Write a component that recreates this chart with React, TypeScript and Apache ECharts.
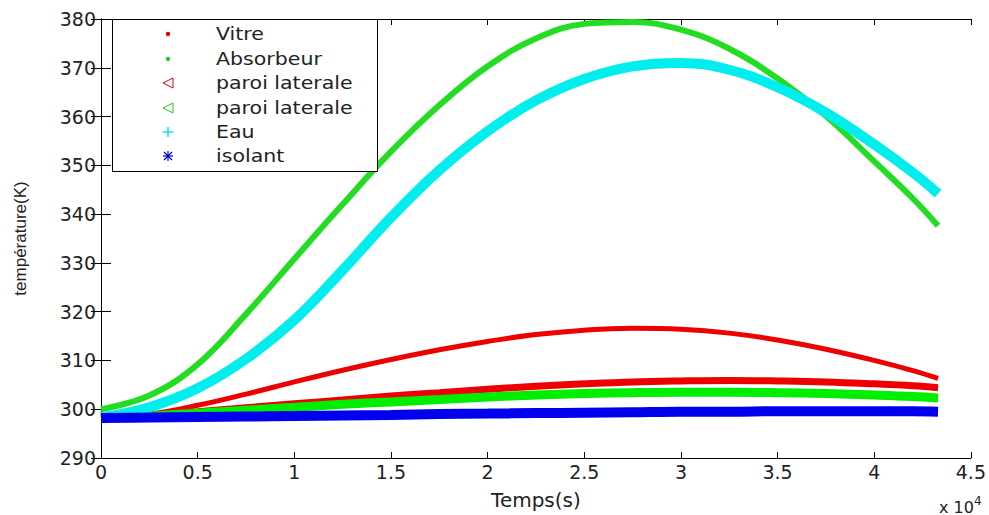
import React, { useEffect, useRef } from "react";
import * as echarts from "echarts";

// time in units of 1e4 s
const times = [0, 0.25, 0.5, 0.75, 1.0, 1.25, 1.5, 1.75, 2.0, 2.25, 2.5, 2.75, 3.0, 3.25, 3.5, 3.75, 4.0, 4.2, 4.33];

const vitre = [298.3, 299.0, 300.8, 303.1, 305.6, 308, 310.2, 312.2, 313.9, 315.3, 316.2, 316.6, 316.4, 315.6, 314.2, 312.3, 310, 307.9, 306.3];
const absorbeur = [300.0, 302.8, 309.2, 319.5, 330.8, 342, 352.8, 362.3, 370.3, 376, 379, 379.4, 377.8, 373.9, 367.8, 360.1, 350.8, 343.2, 337.6];
const paroiRouge = [298.3, 298.8, 299.5, 300.3, 301.1, 301.9, 302.7, 303.4, 304.1, 304.7, 305.2, 305.6, 305.8, 305.9, 305.8, 305.6, 305.2, 304.8, 304.4];
const paroiVerte = [298.3, 298.6, 299.2, 299.8, 300.4, 301, 301.5, 302, 302.5, 302.9, 303.2, 303.4, 303.5, 303.5, 303.4, 303.2, 302.9, 302.6, 302.3];
const eau = [298.3, 300.4, 304.3, 310.3, 318.3, 328.5, 339.3, 349, 357, 363.3, 367.7, 370.3, 371, 369.6, 366, 360.8, 354.3, 348.5, 344.2];
const isolant = [298.2, 298.3, 298.4, 298.5, 298.6, 298.7, 298.8, 299, 299.1, 299.2, 299.3, 299.4, 299.5, 299.5, 299.6, 299.6, 299.6, 299.6, 299.5];

const legendNames = ["Vitre", "Absorbeur", "paroi laterale", "paroi laterale", "Eau", "isolant"];

const FONT = "DejaVu Sans, Verdana, sans-serif";
const FONT2 = "Liberation Sans, Arial, sans-serif";
const TXT = "#222";

function pairs(vals: number[]) {
  return times.map((t, i) => [t * 1e4, vals[i]]);
}

export default function App() {
  const ref = useRef<HTMLDivElement>(null);
  useEffect(() => {
    if (!ref.current) return;
    const chart = echarts.init(ref.current, undefined, { renderer: "svg" });

    const lx = 168;
    const tx = 216;
    const rows = [34, 59, 83, 108, 132, 156];
    const legendGraphics: any[] = [
      {
        type: "rect",
        shape: { x: 112.5, y: 19.5, width: 265, height: 152 },
        style: { fill: "#fff", stroke: "#000", lineWidth: 1 },
        z: 100,
      },
    ];
    legendNames.forEach((n, i) => {
      legendGraphics.push({
        type: "text",
        x: tx,
        y: rows[i],
        scaleX: 1.14,
        style: { text: n, fill: TXT, font: `18px ${FONT}`, textVerticalAlign: "middle", textAlign: "left" },
        z: 101,
      });
    });
    const y0 = rows[0], y1 = rows[1], y2 = rows[2], y3 = rows[3], y4 = rows[4], y5 = rows[5];
    legendGraphics.push(
      { type: "circle", shape: { cx: lx, cy: y0, r: 2.2 }, style: { fill: "#e00000" }, z: 101 },
      { type: "circle", shape: { cx: lx, cy: y1, r: 2.2 }, style: { fill: "#22cc22" }, z: 101 },
      { type: "polygon", shape: { points: [[lx - 5, y2], [lx + 5, y2 - 5], [lx + 5, y2 + 5]] }, style: { fill: "none", stroke: "#e00000", lineWidth: 1 }, z: 101 },
      { type: "polygon", shape: { points: [[lx - 5, y3], [lx + 5, y3 - 5], [lx + 5, y3 + 5]] }, style: { fill: "none", stroke: "#22cc22", lineWidth: 1 }, z: 101 },
      { type: "line", shape: { x1: lx - 5, y1: y4, x2: lx + 5, y2: y4 }, style: { stroke: "#00e5ee", lineWidth: 1.5 }, z: 101 },
      { type: "line", shape: { x1: lx, y1: y4 - 5, x2: lx, y2: y4 + 5 }, style: { stroke: "#00e5ee", lineWidth: 1.5 }, z: 101 },
      { type: "line", shape: { x1: lx - 5, y1: y5, x2: lx + 5, y2: y5 }, style: { stroke: "#0000cc", lineWidth: 1.2 }, z: 101 },
      { type: "line", shape: { x1: lx, y1: y5 - 5, x2: lx, y2: y5 + 5 }, style: { stroke: "#0000cc", lineWidth: 1.2 }, z: 101 },
      { type: "line", shape: { x1: lx - 4, y1: y5 - 4, x2: lx + 4, y2: y5 + 4 }, style: { stroke: "#0000cc", lineWidth: 1.2 }, z: 101 },
      { type: "line", shape: { x1: lx - 4, y1: y5 + 4, x2: lx + 4, y2: y5 - 4 }, style: { stroke: "#0000cc", lineWidth: 1.2 }, z: 101 }
    );
    legendGraphics.push({
      type: "text",
      x: 939,
      y: 507,
      style: {
        text: "x 10{sup|4}",
        fill: TXT,
        font: `16px ${FONT}`,
        textVerticalAlign: "middle",
        rich: { sup: { fontSize: 12, verticalAlign: "top", padding: [0, 0, 12, 0], fill: TXT, fontFamily: FONT } },
      },
      z: 101,
    });

    const mk = (name: string, vals: number[], color: string, width: number, z: number) => ({
      name,
      type: "line",
      data: pairs(vals),
      smooth: 0.4,
      symbol: "none",
      lineStyle: { color, width, cap: "butt" },
      z,
      clip: false,
    });

    const axisLine = { show: true, lineStyle: { color: "#000", width: 1 } };

    chart.setOption({
      animation: false,
      backgroundColor: "#fff",
      grid: { left: 101, right: 15, top: 19, bottom: 52, containLabel: false },
      xAxis: [
        {
          type: "value",
          min: 0,
          max: 45000,
          interval: 5000,
          axisLine,
          axisTick: { show: true, inside: true, length: 6, lineStyle: { color: "#000" } },
          splitLine: { show: false },
          axisLabel: {
            color: TXT,
            fontFamily: FONT,
            fontSize: 19,
            margin: 4,
            formatter: (v: number) => String(v / 1e4),
          },
          name: "Temps(s)",
          nameLocation: "middle",
          nameGap: 32,
          nameTextStyle: { color: TXT, fontFamily: FONT, fontSize: 20 },
        },
        {
          type: "value",
          position: "top",
          min: 0,
          max: 45000,
          interval: 5000,
          axisLine,
          axisTick: { show: true, inside: true, length: 6, lineStyle: { color: "#000" } },
          axisLabel: { show: false },
          splitLine: { show: false },
        },
      ],
      yAxis: [
        {
          type: "value",
          min: 290,
          max: 380,
          interval: 10,
          axisLine,
          axisTick: { show: true, inside: true, length: 10, lineStyle: { color: "#000" } },
          splitLine: { show: false },
          axisLabel: { color: TXT, fontFamily: FONT, fontSize: 19, margin: 5 },
          name: "température(K)",
          nameLocation: "middle",
          nameGap: 72,
          nameRotate: 90,
          nameTextStyle: { color: TXT, fontFamily: FONT2, fontSize: 17 },
        },
        {
          type: "value",
          position: "right",
          min: 290,
          max: 380,
          interval: 10,
          axisLine,
          axisTick: { show: true, inside: true, length: 10, lineStyle: { color: "#000" } },
          axisLabel: { show: false },
          splitLine: { show: false },
        },
      ],
      series: [
        mk("Vitre", vitre, "#ee0000", 5, 2),
        mk("Absorbeur", absorbeur, "#22dd22", 6, 3),
        mk("paroi laterale", paroiRouge, "#ee0000", 7, 4),
        mk("paroi laterale 2", paroiVerte, "#00ee00", 9, 5),
        mk("Eau", eau, "#00eeee", 10, 6),
        mk("isolant", isolant, "#0000ee", 10, 7),
      ],
      graphic: legendGraphics,
    });

    return () => chart.dispose();
  }, []);

  return <div ref={ref} style={{ width: 989, height: 515, position: "absolute", left: 0, top: 0 }} />;
}
